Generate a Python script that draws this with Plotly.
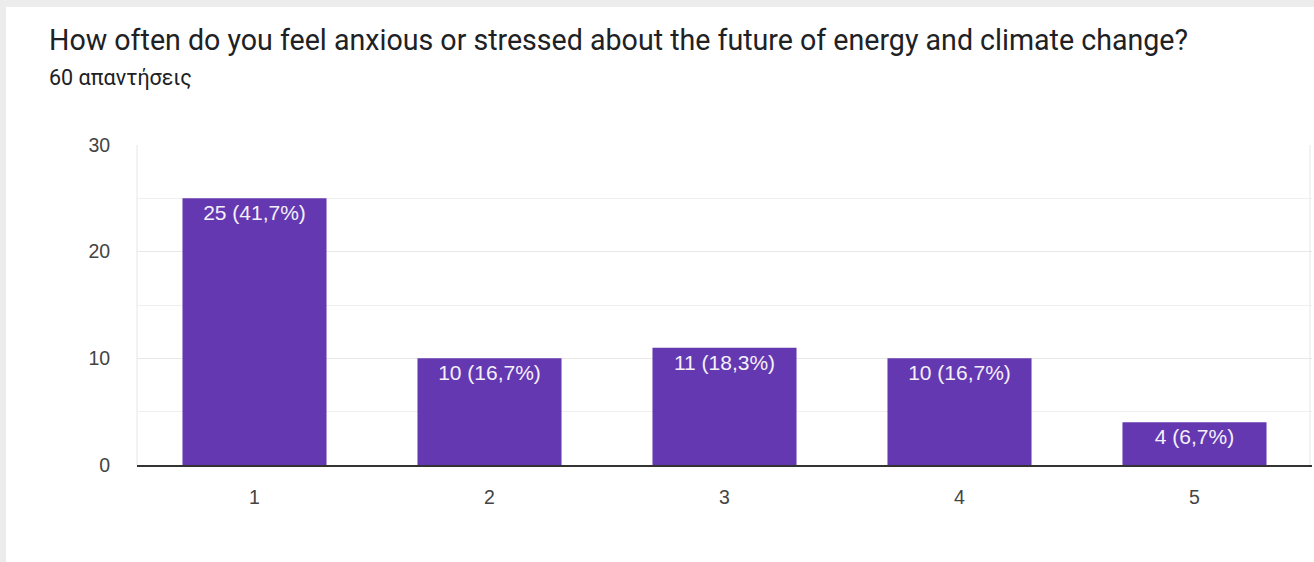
import plotly.graph_objects as go

categories = ["1", "2", "3", "4", "5"]
counts = [25, 10, 11, 10, 4]
percents = ["41,7%", "16,7%", "18,3%", "16,7%", "6,7%"]
y_ticks = [0, 10, 20, 30]

title_text = "How often do you feel anxious or stressed about the future of energy and climate change?"
subtitle_text = "60 απαντήσεις"

W, H = 1314, 562
ML, MR, MT, MB = 137, 2, 145, 97
PW = W - ML - MR
PH = H - MT - MB

def px_x(px):
    return (px - ML) / PW

def px_y(py):
    return (H - MB - py) / PH

labels = [f"{c} ({p})" for c, p in zip(counts, percents)]

fig = go.Figure()
fig.add_trace(go.Bar(
    x=categories,
    y=counts,
    text=labels,
    textposition="inside",
    insidetextanchor="end",
    textangle=0,
    textfont=dict(family="Liberation Sans, Arial, sans-serif", size=21, color="#f4f0fa"),
    marker=dict(color="#6438b1", line=dict(width=0)),
    cliponaxis=False,
    hoverinfo="skip",
))

fig.update_layout(
    width=W, height=H,
    margin=dict(l=ML, r=MR, t=MT, b=MB, autoexpand=False),
    paper_bgcolor="#ececec",
    plot_bgcolor="white",
    bargap=0.387,
    showlegend=False,
    shapes=[
        dict(type="rect", xref="paper", yref="paper", layer="below",
             x0=px_x(6), x1=px_x(W + 2), y0=px_y(H + 2), y1=px_y(7),
             fillcolor="white", line=dict(width=0)),
        dict(type="line", xref="paper", yref="paper", layer="below",
             x0=0, x1=0, y0=0, y1=1, line=dict(color="#e6e6e6", width=1)),
        dict(type="line", xref="paper", yref="paper", layer="below",
             x0=px_x(1310), x1=px_x(1310), y0=0, y1=1, line=dict(color="#e6e6e6", width=1)),
    ],
    annotations=[
        dict(text=title_text, xref="paper", yref="paper", x=px_x(47), y=px_y(40),
             xanchor="left", yanchor="middle", showarrow=False,
             font=dict(family="Roboto, sans-serif", size=28.6, color="#202124")),
        dict(text=subtitle_text, xref="paper", yref="paper", x=px_x(47), y=px_y(77),
             xanchor="left", yanchor="middle", showarrow=False,
             font=dict(family="Roboto, sans-serif", size=21.5, color="#202124")),
    ],
)

fig.update_xaxes(
    type="category",
    range=[-0.5, 4.5],
    showgrid=False,
    showline=True, linecolor="#333333", linewidth=2,
    ticks="outside", ticklen=14, tickcolor="rgba(0,0,0,0)",
    tickfont=dict(family="Liberation Sans, Arial, sans-serif", size=19.5, color="#444444"),
    zeroline=False,
)
fig.update_yaxes(
    range=[0, 30],
    tickvals=y_ticks,
    showgrid=True, gridcolor="#e8e8e8", gridwidth=1,
    minor=dict(dtick=5, showgrid=True, gridcolor="#efefef", gridwidth=1),
    ticks="outside", ticklen=22, tickcolor="rgba(0,0,0,0)",
    tickfont=dict(family="Liberation Sans, Arial, sans-serif", size=19.5, color="#444444"),
    zeroline=False,
    showline=False,
)

fig.write_html(
    "out.html",
    config={"displayModeBar": False},
    post_script="document.body.style.margin='0';document.body.style.background='#ececec';",
)
